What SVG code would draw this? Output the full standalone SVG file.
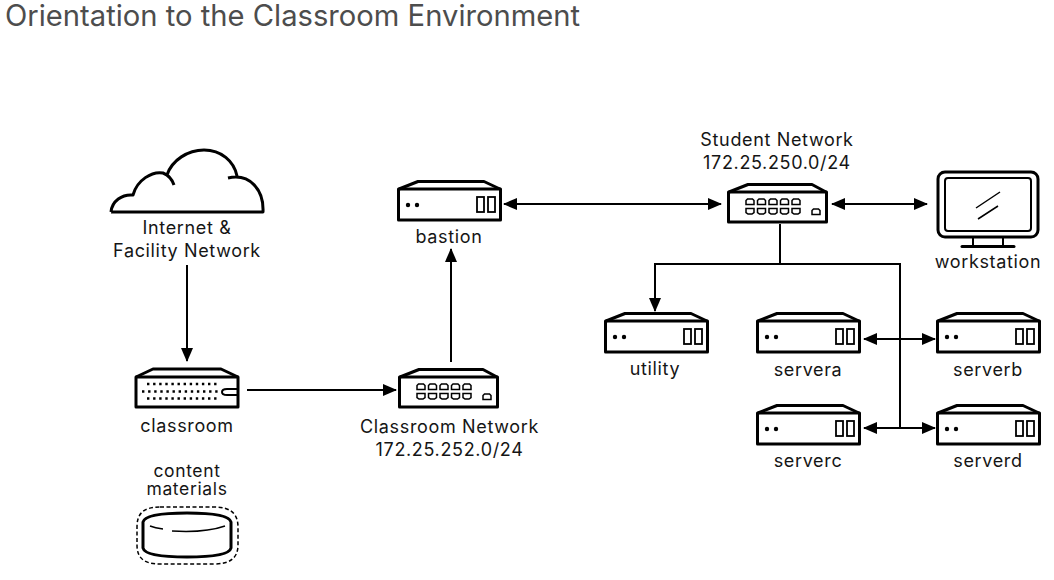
<svg xmlns="http://www.w3.org/2000/svg" width="1054" height="580" viewBox="0 0 1054 580">
<style>
text{font-family:"Inter","Noto Sans","Liberation Sans",sans-serif;font-size:18px;letter-spacing:.65px;fill:#151515;text-anchor:middle}
.title{font-size:29.2px;letter-spacing:0;fill:#4d4d4d;text-anchor:start}
.tight{font-size:17.500px}
.o{fill:none;stroke:#000;stroke-width:3;stroke-linejoin:round}
.t{fill:none;stroke:#000;stroke-width:1.800}
.p{fill:none;stroke:#000;stroke-width:1.500}
.c{fill:none;stroke:#000;stroke-width:2}
.dot{fill:#000}
</style>
<defs>
<marker id="a" viewBox="0 0 14 12" refX="13" refY="6" markerWidth="14" markerHeight="12" markerUnits="userSpaceOnUse" orient="auto-start-reverse"><path d="M0,0L14,6L0,12z" fill="#000"/></marker>
<g id="server">
<path class="o" d="M2,9L21,1.500H87L103,9"/>
<rect class="o" x="1.500" y="9" width="102" height="31"/>
<circle class="dot" cx="11" cy="25" r="2.200"/><circle class="dot" cx="20" cy="25" r="2.200"/>
<rect class="t" x="80" y="17" width="7" height="15"/><rect class="t" x="91" y="17" width="7" height="15"/>
</g>
<path id="port" class="p" d="M1,6.500V2.500L2.500,1H7.500L9,2.500V6.500z"/>
<path id="portd" class="p" d="M1,1V5L3,6.500H7L9,5V1z"/>
<g id="switch">
<path class="o" d="M2,9L21,1.500H85L99,9"/>
<rect class="o" x="1.500" y="9" width="98" height="30"/>
<use href="#port" x="18" y="15"/><use href="#port" x="29.500" y="15"/><use href="#port" x="41" y="15"/><use href="#port" x="52.500" y="15"/><use href="#port" x="64" y="15"/>
<use href="#portd" x="18" y="24.500"/><use href="#portd" x="29.500" y="24.500"/><use href="#portd" x="41" y="24.500"/><use href="#portd" x="52.500" y="24.500"/><use href="#portd" x="64" y="24.500"/>
<use href="#port" x="84" y="25"/>
</g>
</defs>

<text class="title" x="5" y="26">Orientation to the Classroom Environment</text>

<g id="connectors">
<path class="c" d="M187,265V361" marker-end="url(#a)"/>
<path class="c" d="M247,390H396" marker-end="url(#a)"/>
<path class="c" d="M451,362V249" marker-end="url(#a)"/>
<path class="c" d="M504,204H721" marker-start="url(#a)" marker-end="url(#a)"/>
<path class="c" d="M832,204H927" marker-start="url(#a)" marker-end="url(#a)"/>
<path class="c" d="M780,224V264H655V311" marker-end="url(#a)"/>
<path class="c" d="M780,264H900V428"/>
<path class="c" d="M864,339H935" marker-start="url(#a)" marker-end="url(#a)"/>
<path class="c" d="M864,428H935" marker-start="url(#a)" marker-end="url(#a)"/>
</g>

<g id="internet">
<path class="o" d="M111,212C112,201 122,194 133,195C137,180 152,171 163,173C168,175 172,179 174,185M167,175C172,160 188,150 204,150C221,150 234,161 237,176M228,178C250,173 264,190 263,212H111"/>
<text x="187" y="234">Internet &amp;</text>
<text x="187" y="257">Facility Network</text>
</g>

<g id="classroom">
<path class="o" d="M136,377L153,369H221L238,377"/>
<rect class="o" x="136" y="377" width="102" height="30"/>
<path class="c" d="M237,389H227Q222,389 222,392Q222,395 227,395H237"/>
<path d="M147,384H219M142,391.500H219M147,398.500H219" stroke="#000" stroke-width="2.400" stroke-dasharray="2.400 3.700" fill="none"/>
<text x="187" y="432">classroom</text>
</g>

<g id="classroom-network">
<use href="#switch" x="398" y="368"/>
<text x="449.500" y="433">Classroom Network</text>
<text x="449.500" y="456">172.25.252.0/24</text>
</g>

<g id="content-materials">
<text class="tight" x="187" y="477">content</text>
<text class="tight" x="187" y="494.500">materials</text>
<path d="M160,507H214C232,507 238,515 238,527V545C238,558 230,564 214,564H160C144,564 137,558 137,545V527C137,515 142,507 160,507Z" fill="none" stroke="#000" stroke-width="1.500" stroke-dasharray="4 2.500"/>
<path class="o" d="M143,522Q145,513 187,513Q229,513 231,522V548Q229,557 187,557Q145,557 143,548Z"/>
<path d="M150,526Q155,528 163,529M172,531Q205,533 225,526" fill="none" stroke="#000" stroke-width="1.500"/>
</g>

<g id="bastion">
<use href="#server" x="397" y="180"/>
<text x="449" y="243">bastion</text>
</g>

<g id="student-network">
<text x="777" y="146">Student Network</text>
<text x="777" y="169">172.25.250.0/24</text>
<use href="#switch" x="727" y="183"/>
</g>

<g id="workstation">
<rect class="o" x="938" y="172" width="100" height="65" rx="7"/>
<rect x="945" y="178" width="86" height="53" rx="3" fill="none" stroke="#000" stroke-width="2"/>
<path d="M976,208L1000,192M978,219L998,206" fill="none" stroke="#000" stroke-width="1.500"/>
<path class="c" d="M973,238V246M1003,238V246"/>
<path d="M962,246.500H1014" fill="none" stroke="#000" stroke-width="3" stroke-linecap="round"/>
<text x="988" y="268">workstation</text>
</g>

<g id="utility"><use href="#server" x="604" y="312"/><text x="655" y="375">utility</text></g>
<g id="servera"><use href="#server" x="756" y="312"/><text x="808" y="376">servera</text></g>
<g id="serverb"><use href="#server" x="936" y="312"/><text x="988" y="376">serverb</text></g>
<g id="serverc"><use href="#server" x="756" y="404"/><text x="808" y="467">serverc</text></g>
<g id="serverd"><use href="#server" x="936" y="404"/><text x="988" y="467">serverd</text></g>
</svg>
